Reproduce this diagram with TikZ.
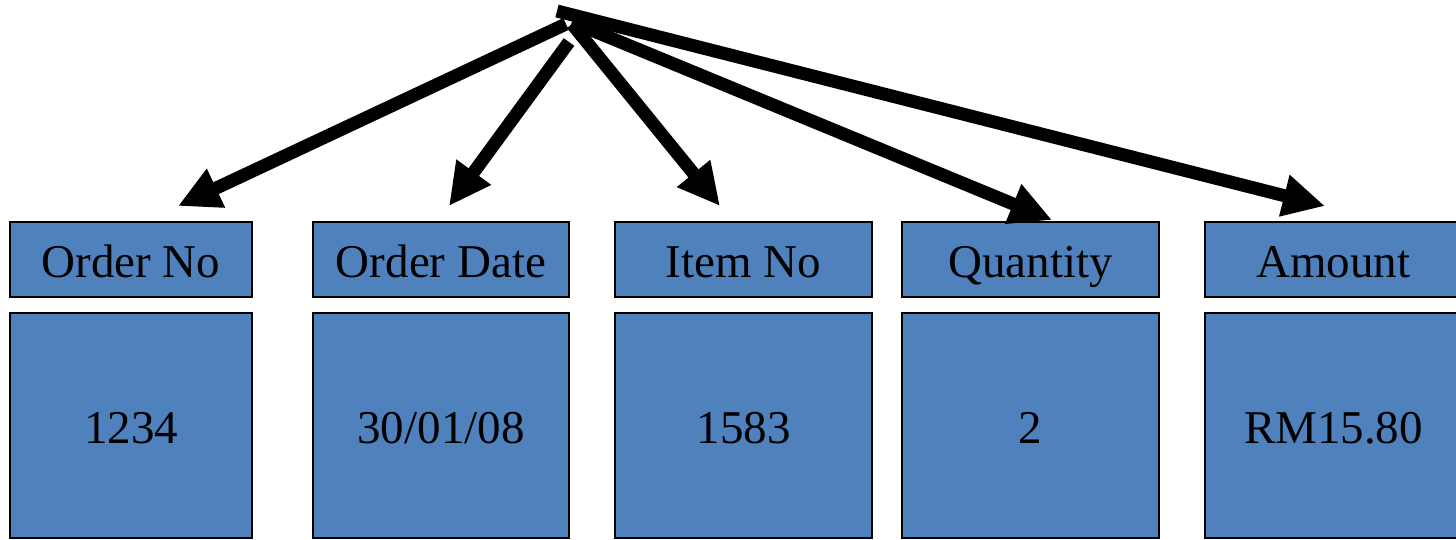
\documentclass[tikz,border=0pt]{standalone}
\usepackage{fontspec}
\setmainfont{Liberation Serif}
\usetikzlibrary{arrows.meta}
\definecolor{boxblue}{HTML}{4F81BD}
\begin{document}
\begin{tikzpicture}[x=1pt,y=-1pt,
  cell/.style={draw=black, line width=1.8pt, fill=boxblue, inner sep=0pt,
    font=\fontsize{47}{50}\selectfont, text height=38pt, text depth=3pt},
  head/.style={cell, minimum height=75pt},
  val/.style={cell, minimum height=225pt},
  bigarrow/.style={line width=13pt, -{Triangle[length=42pt,width=40pt]}}]
\useasboundingbox (0,0) rectangle (1456,539);
\clip (0,0) rectangle (1456,539);
% header row
\node[head, minimum width=242pt] (h1) at (131,259.5) {Order No};
\node[head, minimum width=256pt] (h2) at (441,259.5) {Order Date};
\node[head, minimum width=257pt] (h3) at (743.5,259.5) {Item No};
\node[head, minimum width=257pt] (h4) at (1030.5,259.5) {Quantity};
\node[head, minimum width=257pt] (h5) at (1333.5,259.5) {Amount};
% value row
\node[val, minimum width=242pt] (v1) at (131,425.5) {1234};
\node[val, minimum width=256pt] (v2) at (441,425.5) {30/01/08};
\node[val, minimum width=257pt] (v3) at (743.5,425.5) {1583};
\node[val, minimum width=257pt] (v4) at (1030.5,425.5) {2};
\node[val, minimum width=257pt] (v5) at (1333.5,425.5) {RM15.80};
% arrow coordinates
\coordinate (s1) at (566,24);
\coordinate (s2) at (569,42);
\coordinate (s3) at (572,24);
\coordinate (s4) at (572,22);
\coordinate (s5) at (557,11);
\coordinate (t1) at (178,206);
\coordinate (t2) at (449,206);
\coordinate (t3) at (720,206);
\coordinate (t4) at (1052,220);
\coordinate (t5) at (1325,206);
\draw[bigarrow] (s1) -- (t1);
\draw[bigarrow] (s2) -- (t2);
\draw[bigarrow] (s3) -- (t3);
\draw[bigarrow] (s4) -- (t4);
\draw[bigarrow] (s5) -- (t5);
\end{tikzpicture}
\end{document}
